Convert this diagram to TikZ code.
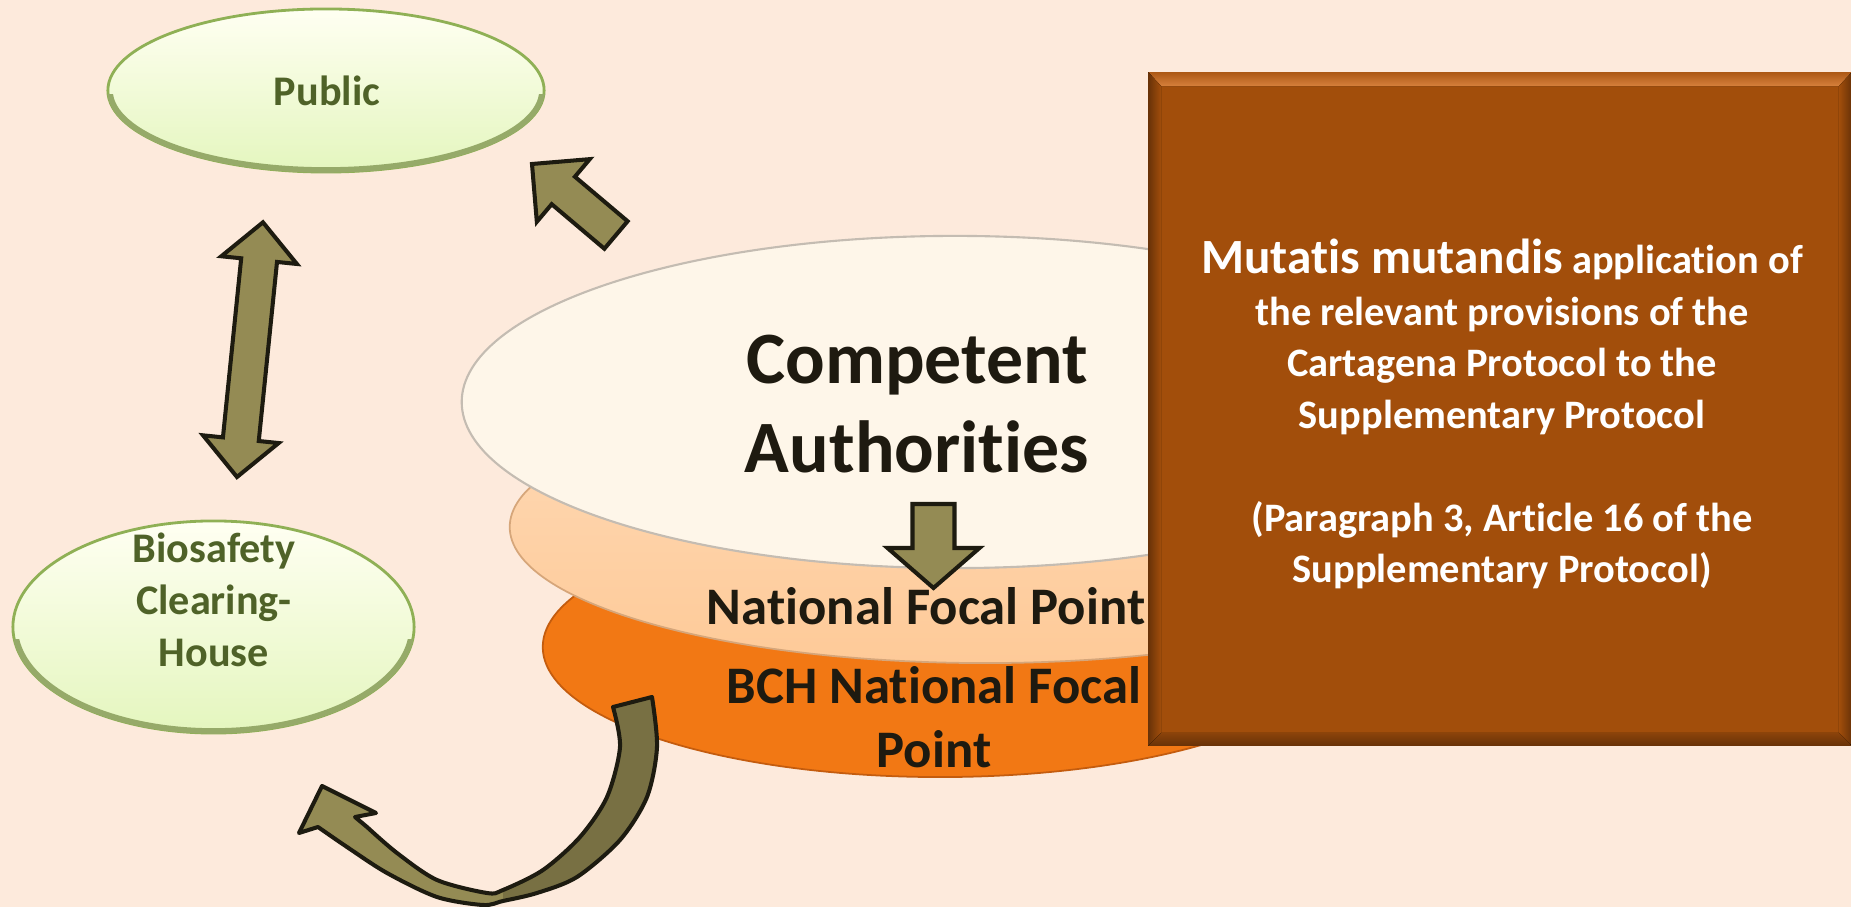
\documentclass[tikz,border=0pt]{standalone}
\usepackage{fontspec}
\setmainfont{Carlito}[Ligatures={NoCommon}]
\usetikzlibrary{shapes.geometric,calc}
\definecolor{bg}{RGB}{253,234,220}
\definecolor{grn}{RGB}{79,98,40}
\definecolor{grnline}{RGB}{143,176,85}
\definecolor{grnrim}{RGB}{150,170,105}
\definecolor{grntop}{RGB}{255,255,242}
\definecolor{grnmid}{RGB}{248,253,226}
\definecolor{grnbot}{RGB}{228,246,190}
\definecolor{cream}{RGB}{254,246,233}
\definecolor{creamline}{RGB}{196,188,178}
\definecolor{peach}{RGB}{254,202,152}
\definecolor{peachline}{RGB}{214,166,122}
\definecolor{orng}{RGB}{242,120,20}
\definecolor{orngline}{RGB}{196,92,14}
\definecolor{brwn}{RGB}{162,78,11}
\definecolor{brwnlight}{RGB}{214,128,60}
\definecolor{brwndark}{RGB}{104,50,8}
\definecolor{arrowfill}{RGB}{148,139,84}
\definecolor{arrowdark}{RGB}{120,112,67}
\definecolor{arrowline}{RGB}{29,27,16}
\definecolor{txt}{RGB}{30,26,16}
\begin{document}
\begin{tikzpicture}[x=0.01cm,y=-0.01cm,
  oval/.style={ellipse,inner sep=0pt},
  greenoval/.style={oval,draw=grnline,line width=0.8pt,top color=grntop,middle color=grnmid,bottom color=grnbot},
  blockarrow/.style={fill=arrowfill,draw=arrowline,line width=1.15pt},
  ovaltext/.style={text=txt,font=\bfseries\fontsize{15}{18.2}\selectfont,align=center,inner sep=0pt},
  greentext/.style={text=grn,font=\bfseries\fontsize{12}{14.8}\selectfont,align=center,inner sep=0pt}]
\fill[bg] (0,0) rectangle (1851,907);
\useasboundingbox (0,0) rectangle (1851,907);

% green ovals
\node[greenoval,minimum width=4.36cm,minimum height=1.63cm] (public) at (326,90.5) {};
\node[greenoval,minimum width=4.01cm,minimum height=2.12cm] (bio) at (213.5,627) {};
\begin{scope}
\clip (0,95) rectangle (600,200);
\draw[grnrim,line width=1.6pt] (public.center) ellipse [x radius=216, y radius=79.5];
\end{scope}
\begin{scope}
\clip (0,640) rectangle (600,760);
\draw[grnrim,line width=1.6pt] (bio.center) ellipse [x radius=198.5, y radius=104];
\end{scope}
\node[greentext,anchor=base] (tpublic) at (327,106) {Public};
\node[greentext] (tbio) at (214,600) {Biosafety\\Clearing-\\House};

% stacked ovals
\node[oval,minimum width=7.94cm,minimum height=2.6cm,fill=orng,draw=orngline,line width=0.5pt] (bch) at (940,647) {};
\node[oval,minimum width=9.5cm,minimum height=2.72cm,top color=peach!70!white,bottom color=peach,draw=peachline,line width=0.5pt] (nat) at (985,527) {};
\node[oval,minimum width=9.86cm,minimum height=3.32cm,fill=cream,draw=creamline,line width=0.6pt] (comp) at (955,402) {};

% arrow anchor coordinates
\coordinate (ulTail) at (616,235);
\coordinate (dBot) at (237,477);
\coordinate (daTail) at (933.5,504);

% up-left arrow (to Public)
\begin{scope}[shift={(ulTail)},rotate=139.8]
\draw[blockarrow] (0,-18) -- (69,-18) -- (69,-41) -- (110,0) -- (69,41) -- (69,18) -- (0,18) -- cycle;
\end{scope}
% double arrow Public <-> Biosafety
\begin{scope}[shift={(dBot)},rotate=84.18]
\draw[blockarrow] (0,0) -- (38,-38) -- (38,-18) -- (218,-18) -- (218,-38) -- (256,0) -- (218,38) -- (218,18) -- (38,18) -- (38,38) -- cycle;
\end{scope}
% down arrow
\begin{scope}[shift={(daTail)},rotate=-90]
\draw[blockarrow] (0,-21) -- (44,-21) -- (44,-46) -- (84,0) -- (44,46) -- (44,21) -- (0,21) -- cycle;
\end{scope}

% texts in ovals
\node[ovaltext,font=\bfseries\fontsize{21}{25.3}\selectfont] (tcomp) at (917,404) {Competent\\Authorities};
\node[ovaltext,anchor=base] (tnat) at (926,625) {National Focal Point};
\node[ovaltext] (tbch) at (934,717.5) {BCH National Focal\\Point};

% curved arrow BCH -> Biosafety
\fill[arrowfill] (613,707) -- plot[smooth] coordinates {(652,697) (657,747) (647,797) (620,840) (577,877) (537,893) (503,901) (483,905) (437,897) (387,873) (347,847) (318,827)}
  -- (299,833) -- (322,786) -- (376,813) -- (355,817)
  -- plot[smooth] coordinates {(367,827) (397,853) (437,880) (487,893) (503,890) (543,870) (580,837) (607,797) (620,747) (613,707)} -- cycle;
\fill[arrowdark] (613,707) -- plot[smooth] coordinates {(652,697) (657,747) (647,797) (620,840) (577,877) (537,893) (503,901)}
  -- plot[smooth] coordinates {(503,890) (543,870) (580,837) (607,797) (620,747) (613,707)} -- cycle;
\draw[arrowline,line width=1.15pt,line join=round] (613,707) -- plot[smooth] coordinates {(652,697) (657,747) (647,797) (620,840) (577,877) (537,893) (503,901) (483,905) (437,897) (387,873) (347,847) (318,827)}
  -- (299,833) -- (322,786) -- (376,813) -- (355,817)
  -- plot[smooth] coordinates {(367,827) (397,853) (437,880) (487,893) (503,890) (543,870) (580,837) (607,797) (620,747) (613,707)} -- cycle;

% brown box
\node[minimum width=7.02cm,minimum height=6.72cm,inner sep=0pt,fill=brwn] (box) at (1500,409) {};
\fill[top color=brwn!80!brwnlight,bottom color=brwnlight] (box.north west) -- (box.north east) -- ++(-13,14) -- ($(box.north west)+(13,14)$) -- cycle;
\fill[left color=brwndark,right color=brwn] (box.north west) -- ($(box.north west)+(13,14)$) -- ($(box.south west)+(13,-13)$) -- (box.south west) -- cycle;
\fill[left color=brwn,right color=brwndark] (box.north east) -- ($(box.north east)+(-13,14)$) -- ($(box.south east)+(-13,-13)$) -- (box.south east) -- cycle;
\fill[top color=brwn!60!brwndark,bottom color=brwndark] (box.south west) -- ($(box.south west)+(13,-13)$) -- ($(box.south east)+(-13,-13)$) -- (box.south east) -- cycle;
\node[text=white,font=\bfseries\fontsize{11.5}{14.65}\selectfont,align=center,inner sep=0pt] (tbox) at (1502,414)
  {{\fontsize{14}{14.65}\selectfont Mutatis mutandis} application of\\the relevant provisions of the\\Cartagena Protocol to the\\Supplementary Protocol\\[14.65pt](Paragraph 3, Article 16 of the\\Supplementary Protocol)};
\end{tikzpicture}
\end{document}
